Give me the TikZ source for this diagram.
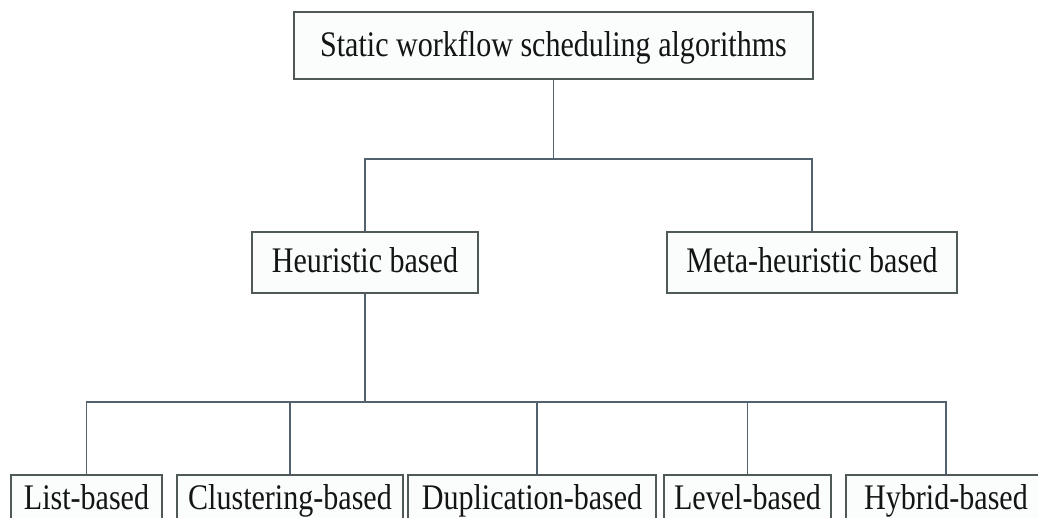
\documentclass[tikz,border=0pt]{standalone}
\usepackage{fontspec}
\setmainfont{Liberation Serif}[FakeStretch=0.835]
\definecolor{edgegray}{HTML}{4E5958}
\definecolor{linkblue}{HTML}{52616E}
\definecolor{boxfill}{HTML}{FBFDFD}
\begin{document}
\begin{tikzpicture}[x=1pt,y=-1pt,
  catbox/.style={draw=edgegray, line width=1.5pt, fill=boxfill, inner sep=0pt,
    font=\fontsize{36}{40}\selectfont, text=black!92},
  link/.style={draw=linkblue, line width=1.4pt}]
  \useasboundingbox[fill=white] (0,0) rectangle (1038,517);

  % root of the taxonomy
  \node[catbox, minimum width=519pt, minimum height=67pt, text height=26pt, text depth=5pt]
    (root) at (553.5,45.5) {Static workflow scheduling algorithms};

  % second level
  \node[catbox, minimum width=226pt, minimum height=61pt, text height=25pt, text depth=6pt]
    (heur) at (365,262.5) {Heuristic based};
  \node[catbox, minimum width=290pt, minimum height=61pt, text height=25pt, text depth=6pt]
    (meta) at (812,262.5) {Meta-heuristic based};

  % heuristic sub-classes
  \tikzset{leaf/.style={catbox, minimum height=61pt, text height=14pt, text depth=7pt}}
  \node[leaf, minimum width=151pt] (list) at (86.5,505.5) {List-based};
  \node[leaf, minimum width=226pt] (clus) at (290,505.5) {Clustering-based};
  \node[leaf, minimum width=248pt] (dupl) at (532,505.5) {Duplication-based};
  \node[leaf, minimum width=167pt] (levl) at (747.5,505.5) {Level-based};
  \node[leaf, minimum width=200pt] (hybr) at (946,505.5) {Hybrid-based};

  % connectors
  \coordinate (j1) at (553.5,159);
  \coordinate (j2) at (365,402);
  \draw[link] (root.south) -- (j1);
  \draw[link] (j1) -| (heur.north);
  \draw[link] (j1) -| (meta.north);
  \draw[link] (heur.south) -- (j2);
  \draw[link] (j2) -| (list.north);
  \draw[link] (j2) -| (clus.north);
  \draw[link] (j2) -| ([xshift=5pt]dupl.north);
  \draw[link] (j2) -| (levl.north);
  \draw[link] (j2) -| (hybr.north);
\end{tikzpicture}
\end{document}
